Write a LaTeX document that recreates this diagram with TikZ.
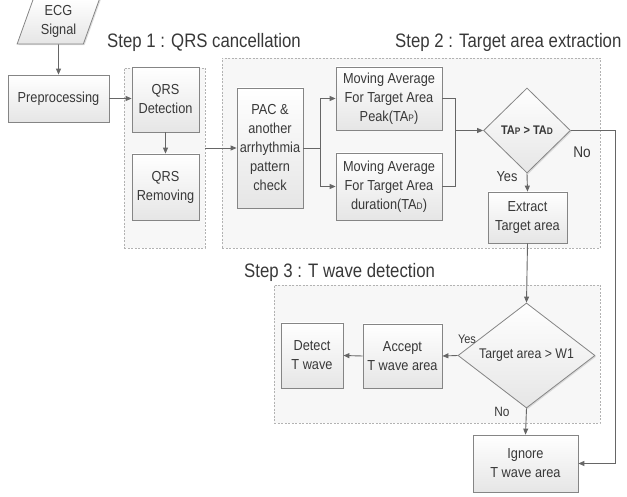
\documentclass[tikz,border=0pt]{standalone}
\usepackage{fontspec}
\setmainfont{Liberation Sans}[FakeStretch=0.88]
\newfontfamily\headfont{Liberation Sans}[FakeStretch=0.86]
\usetikzlibrary{shapes.geometric,arrows.meta,shadows}
\definecolor{txt}{HTML}{383838}
\definecolor{ln}{HTML}{666666}
\definecolor{bd}{HTML}{858585}
\tikzset{
  box/.style={draw=bd, line width=0.8pt, top color=white, bottom color=gray!20,
    text=txt, align=center, inner sep=1pt, font=\fontsize{14.5}{19}\selectfont,
    drop shadow={shadow xshift=1.2pt, shadow yshift=-1.2pt, opacity=0.25}},
  region/.style={draw=gray!60, dash pattern=on 2pt off 1.5pt, fill=gray!6, line width=0.7pt},
  conn/.style={draw=ln, line width=0.9pt},
  arr/.style={conn, -{Triangle[length=6pt,width=5pt]}},
  head/.style={text=txt, font=\headfont\fontsize{19.5}{19.5}\selectfont, anchor=west, inner sep=0pt},
  lbl/.style={text=txt, inner sep=0pt},
  dia/.style={diamond, draw=bd, line width=0.8pt, top color=white, bottom color=gray!20,
    text=txt, inner sep=0pt, aspect=1.2,
    drop shadow={shadow xshift=1.2pt, shadow yshift=-1.2pt, opacity=0.25}},
}
\newcommand{\smc}[1]{{\fontsize{9.5}{9.5}\selectfont #1}}
\begin{document}
\begin{tikzpicture}[x=1pt, y=-1pt]
\useasboundingbox (0,0) rectangle (627,497);
% regions
\node[region, minimum width=81pt, minimum height=180pt] (s1) at (164.5,158) {};
\node[region, minimum width=378pt, minimum height=190pt] (s2) at (411,153) {};
\node[region, minimum width=326pt, minimum height=138pt] (s3) at (437,354) {};
% headings
\node[head] (h1) at (107,42) {Step 1 : QRS cancellation};
\node[head] (h2) at (395,42) {Step 2 : Target area extraction};
\node[head] (h3) at (244,272) {Step 3 : T wave detection};
% nodes
\node[box, trapezium, trapezium left angle=70, trapezium right angle=110,
  trapezium stretches=true, minimum width=83pt, minimum height=46pt] (ecg) at (58.5,21) {ECG\\Signal};
\node[box, minimum width=101pt, minimum height=47pt] (pre) at (58.5,98.5) {Preprocessing};
\node[box, minimum width=67pt, minimum height=65pt] (qd) at (165.5,99.5) {QRS\\Detection};
\node[box, minimum width=67pt, minimum height=66pt] (qr) at (165.5,187) {QRS\\Removing};
\node[box, minimum width=66pt, minimum height=120pt] (pac) at (270,148) {PAC \&\\another\\arrhythmia\\pattern\\check};
\node[box, minimum width=106pt, minimum height=63pt] (map) at (389,98.5) {Moving Average\\For Target Area\\Peak(TA\smc{P})};
\node[box, minimum width=106pt, minimum height=67pt] (mad) at (389,186.5) {Moving Average\\For Target Area\\duration(TA\smc{D})};
\node[dia, minimum width=87pt, minimum height=85pt, font=\bfseries\fontsize{12.5}{12.5}\selectfont] (d1) at (527,130.5) {TA\smc{P} > TA\smc{D}};
\node[box, minimum width=79pt, minimum height=51pt] (ext) at (527.5,217.5) {Extract\\Target area};
\node[dia, minimum width=137pt, minimum height=105pt, font=\fontsize{14}{14}\selectfont] (d2) at (526.5,355.5) {Target area > W1};
\node[box, minimum width=79pt, minimum height=64pt] (acc) at (402.5,356) {Accept\\T wave area};
\node[box, minimum width=62pt, minimum height=65pt] (det) at (312,355.5) {Detect\\T wave};
\node[box, minimum width=105pt, minimum height=57pt] (ign) at (525.5,463.5) {Ignore\\T wave area};
% labels
\node[lbl, font=\fontsize{14.5}{14.5}\selectfont] (yes1) at (507,177) {Yes};
\node[lbl, font=\fontsize{15.5}{15.5}\selectfont] (no1) at (582,152) {No};
\node[lbl, font=\fontsize{12.5}{12.5}\selectfont] (yes2) at (467,339) {Yes};
\node[lbl, font=\fontsize{13.5}{13.5}\selectfont] (no2) at (502,412) {No};
% connectors
\draw[arr] (ecg.south) -- (pre.north);
\draw[arr] (pre.east) -- (qd.west |- pre.east);
\draw[arr] (qd.south) -- (qr.north);
\draw[arr] (s1.east |- pac.west) -- (pac.west);
\coordinate (br) at (320,148);
\draw[conn] (pac.east) -- (br);
\draw[arr] (br) |- (map.west);
\draw[arr] (br) |- (mad.west);
\coordinate (mg) at (455,130.5);
\draw[conn] (map.east) -| (mg);
\draw[conn] (mad.east) -| (mg);
\draw[arr] (mg) -- (d1.west);
\draw[arr] (d1.south) -- (ext.north);
\coordinate (nr) at (615,130.5);
\draw[arr] (d1.east) -- (nr) |- (ign.east);
\draw[arr] (ext.south) -- (d2.north);
\draw[arr] (d2.west) -- (acc.east);
\draw[arr] (acc.west) -- (det.east);
\draw[arr] (d2.south) -- (ign.north);
\end{tikzpicture}
\end{document}
